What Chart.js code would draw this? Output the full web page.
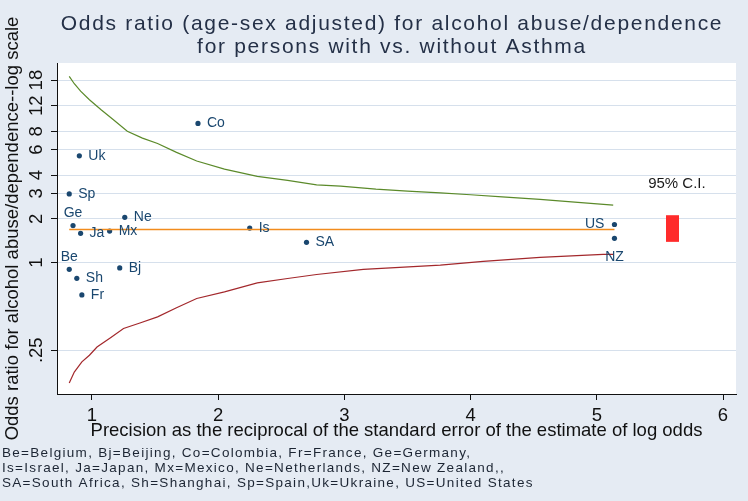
<!DOCTYPE html>
<html>
<head>
<meta charset="utf-8">
<script src="https://cdn.jsdelivr.net/npm/chart.js@4.4.1/dist/chart.umd.min.js"></script>
<style>
  html, body { margin: 0; padding: 0; background: #e5ebf3; }
  canvas { display: block; }
</style>
</head>
<body>
<canvas id="chart" width="748" height="501"></canvas>
<script>
// country codes, precision (1/SE of log odds) and age-sex adjusted odds ratio
const codes = ['Be', 'Bj', 'Co', 'Fr', 'Ge', 'Is', 'Ja', 'Mx', 'Ne', 'NZ', 'SA', 'Sh', 'Sp', 'Uk', 'US'];
const precision = [0.82, 1.22, 1.84, 0.92, 0.85, 2.25, 0.91, 1.14, 1.26, 5.14, 2.70, 0.88, 0.82, 0.90, 5.14];
const oddsRatio = [0.90, 0.92, 9.07, 0.60, 1.80, 1.73, 1.59, 1.65, 2.05, 1.47, 1.38, 0.78, 2.97, 5.43, 1.83];

// pooled estimate and its 95% CI
const pooledX = [0.82, 5.14];
const pooledOR = 1.69;
const ciX = 5.6;
const ciLow = 1.39;
const ciHigh = 2.12;

// funnel limits
const upperX = [0.82, 0.86, 0.91, 0.98, 1.07, 1.17, 1.28, 1.40, 1.52, 1.67, 1.83, 2.05, 2.31, 2.55, 2.78,
  2.97, 3.25, 3.50, 3.76, 4.00, 4.25, 4.55, 4.85, 5.13];
const upperOR = [19.1, 17.0, 15.1, 13.2, 11.3, 9.6, 8.0, 7.19, 6.6, 5.73, 5.0, 4.4, 3.92, 3.68, 3.43,
  3.36, 3.2, 3.1, 3.02, 2.93, 2.83, 2.72, 2.6, 2.49];
const lowerX = [0.82, 0.86, 0.92, 0.98, 1.04, 1.15, 1.25, 1.38, 1.52, 1.67, 1.83, 2.05, 2.31, 2.55, 2.78,
  3.15, 3.76, 4.10, 4.55, 5.05, 5.13];
const lowerOR = [0.149, 0.177, 0.208, 0.231, 0.263, 0.306, 0.353, 0.385, 0.424, 0.49, 0.567, 0.63, 0.726, 0.778, 0.829,
  0.898, 0.961, 1.02, 1.086, 1.139, 1.14];

const xTicks = [1, 2, 3, 4, 5, 6];
const yTicks = [0.25, 1, 2, 3, 4, 6, 8, 12, 18];
const yTickLabels = ['.25', '1', '2', '3', '4', '6', '8', '12', '18'];

const titleLines = [
  'Odds ratio (age-sex adjusted) for alcohol abuse/dependence',
  'for persons with vs. without Asthma'
];
const noteLines = [
  'Be=Belgium, Bj=Beijing, Co=Colombia, Fr=France, Ge=Germany,',
  'Is=Israel, Ja=Japan, Mx=Mexico, Ne=Netherlands, NZ=New Zealand,,',
  'SA=South Africa, Sh=Shanghai, Sp=Spain,Uk=Ukraine, US=United States'
];

const FONT = "'Liberation Sans', Arial, sans-serif";
const BG = '#e5ebf3';
const NAVY = '#1a476f';

// grey-blue outer region, white plot region
const backdrop = {
  id: 'backdrop',
  beforeDraw(chart) {
    const { ctx, chartArea: a } = chart;
    ctx.save();
    ctx.fillStyle = BG;
    ctx.fillRect(0, 0, chart.width, chart.height);
    ctx.fillStyle = '#fff';
    ctx.fillRect(a.left, a.top, a.right - a.left, a.bottom - a.top);
    ctx.restore();
  }
};

// marker labels: most sit to the right of the dot
const labelPos = { Ge: 'top', Be: 'top', US: 'left', NZ: 'bottom' };

const annotations = {
  id: 'annotations',
  afterDatasetsDraw(chart) {
    const { ctx, scales: { x, y } } = chart;
    const meta = chart.getDatasetMeta(3);
    ctx.save();
    ctx.font = `14px ${FONT}`;
    ctx.fillStyle = NAVY;
    ctx.textBaseline = 'middle';
    meta.data.forEach((pt, i) => {
      const code = codes[i];
      const pos = labelPos[code] || 'right';
      let tx = pt.x, ty = pt.y;
      ctx.textAlign = 'left';
      if (pos === 'right') tx += 9;
      else if (pos === 'left') { tx -= 10; ctx.textAlign = 'right'; }
      else if (pos === 'top') { ty -= 12; ctx.textAlign = 'center'; }
      else { ty += 19; ctx.textAlign = 'center'; }
      ctx.fillText(code, tx, ty);
    });
    ctx.fillStyle = '#1a1a1a';
    ctx.font = `15px ${FONT}`;
    ctx.textAlign = 'center';
    ctx.fillText('95% C.I.', x.getPixelForValue(5.635), y.getPixelForValue(3.5));
    ctx.restore();
  }
};

const texts = {
  id: 'texts',
  afterDraw(chart) {
    const { ctx } = chart;
    ctx.save();
    ctx.textBaseline = 'alphabetic';
    ctx.fillStyle = '#243047';
    ctx.font = `21px ${FONT}`;
    ctx.letterSpacing = '1.7px';
    ctx.textAlign = 'center';
    titleLines.forEach((t, i) => ctx.fillText(t, 392, 29.5 + i * 23));
    ctx.fillStyle = '#1c2533';
    ctx.font = `13.5px ${FONT}`;
    ctx.letterSpacing = '1.3px';
    ctx.textAlign = 'left';
    noteLines.forEach((t, i) => ctx.fillText(t, 2, 457 + i * 15.2));
    ctx.restore();
  }
};

new Chart(document.getElementById('chart'), {
  type: 'scatter',
  data: {
    datasets: [
      {
        type: 'line',
        data: upperX.map((v, i) => ({ x: v, y: upperOR[i] })),
        borderColor: '#5b8a2a', borderWidth: 1.2, pointRadius: 0, tension: 0
      },
      {
        type: 'line',
        data: lowerX.map((v, i) => ({ x: v, y: lowerOR[i] })),
        borderColor: '#a3282c', borderWidth: 1.2, pointRadius: 0, tension: 0
      },
      {
        type: 'line',
        data: pooledX.map(v => ({ x: v, y: pooledOR })),
        borderColor: '#f28c1c', borderWidth: 1.5, pointRadius: 0
      },
      {
        type: 'scatter',
        data: precision.map((v, i) => ({ x: v, y: oddsRatio[i] })),
        backgroundColor: NAVY, borderColor: NAVY, borderWidth: 0, pointRadius: 2.6
      },
      {
        type: 'line',
        data: [{ x: ciX, y: ciLow }, { x: ciX, y: ciHigh }],
        borderColor: '#ff2b2b', borderWidth: 13, borderCapStyle: 'butt', pointRadius: 0
      }
    ]
  },
  options: {
    responsive: false,
    animation: false,
    devicePixelRatio: 1,
    layout: { padding: { top: 63, right: 12, left: 0, bottom: 0 } },
    plugins: { legend: { display: false }, tooltip: { enabled: false } },
    scales: {
      x: {
        type: 'linear', min: 0.723, max: 6.103,
        afterBuildTicks: s => { s.ticks = xTicks.map(v => ({ value: v })); },
        afterFit: s => { s.height = 107; },
        grid: { drawOnChartArea: false, tickLength: 6, tickColor: '#111', color: '#111' },
        border: { color: '#111', width: 1 },
        ticks: { color: '#111', font: { family: FONT, size: 18.5 }, padding: 5, maxRotation: 0, autoSkip: false },
        title: {
          display: true,
          text: 'Precision as the reciprocal of the standard error of the estimate of log odds',
          color: '#111', font: { family: FONT, size: 18.5 }, padding: { top: 0, bottom: 59 }
        }
      },
      y: {
        type: 'logarithmic', min: 0.125, max: 23.6,
        afterBuildTicks: s => { s.ticks = yTicks.map(v => ({ value: v })); },
        afterFit: s => { s.width = 57; },
        grid: { color: '#d6e0ec', tickColor: '#111', tickLength: 6, lineWidth: 1 },
        border: { color: '#111', width: 1 },
        ticks: {
          color: '#111', font: { family: FONT, size: 18.5 }, padding: 1,
          minRotation: 90, maxRotation: 90, autoSkip: false, crossAlign: 'center',
          callback: (v, i) => yTickLabels[i]
        },
        title: {
          display: true,
          text: 'Odds ratio for alcohol abuse/dependence--log scale',
          color: '#111', font: { family: FONT, size: 18.5 }, padding: { top: 2, bottom: 0 }
        }
      }
    }
  },
  plugins: [backdrop, annotations, texts]
});
</script>
</body>
</html>
